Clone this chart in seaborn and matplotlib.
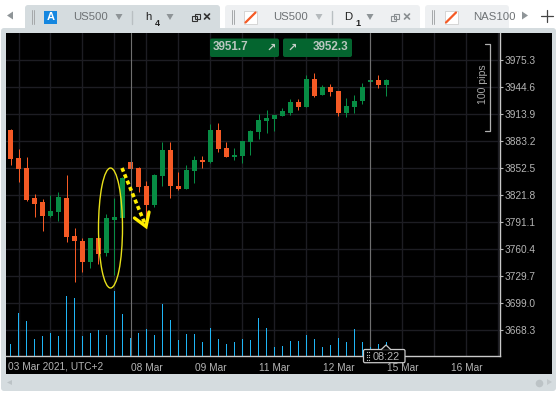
import numpy as np
import pandas as pd
import matplotlib
matplotlib.use("Agg")
import matplotlib.pyplot as plt
from matplotlib.patches import Rectangle, FancyBboxPatch, Ellipse, Polygon
import seaborn as sns

# bougies h4, valeurs
opens = [3896.0, 3864.2, 3852.8, 3818.7, 3814.2, 3798.3, 3802.8, 3818.7, 3775.5, 3769.8, 3745.9, 3773.2,
         3756.2, 3793.7, 3796.0, 3859.7, 3852.8, 3832.4, 3810.8, 3843.7, 3873.3, 3832.4, 3829.0, 3849.4,
         3861.9, 3859.7, 3896.0, 3875.6, 3865.4, 3866.5, 3882.4, 3893.8, 3906.3, 3908.5, 3912.0, 3915.4,
         3927.9, 3922.2, 3954.0, 3935.8, 3945.0, 3940.4, 3915.4, 3922.2, 3929.0, 3950.6, 3952.9, 3947.2]
closes = [3863.1, 3851.7, 3816.5, 3811.9, 3798.3, 3804.0, 3819.9, 3774.4, 3769.8, 3745.9, 3773.2, 3755.0,
          3796.0, 3797.1, 3841.5, 3851.7, 3831.2, 3810.8, 3844.9, 3873.3, 3832.4, 3829.0, 3850.6, 3861.9,
          3859.7, 3896.0, 3874.4, 3865.4, 3867.6, 3883.5, 3894.9, 3907.4, 3909.7, 3913.1, 3917.7, 3927.9,
          3922.2, 3954.0, 3934.7, 3945.0, 3939.3, 3915.4, 3923.3, 3929.0, 3945.0, 3952.9, 3947.2, 3952.9]
highs = [3897.2, 3874.4, 3865.4, 3823.3, 3817.6, 3822.1, 3825.6, 3844.9, 3784.6, 3773.2, 3773.2, 3773.2,
         3800.5, 3818.7, 3842.6, 3868.8, 3854.0, 3838.1, 3846.0, 3882.4, 3882.4, 3848.3, 3856.2, 3866.5,
         3866.5, 3902.9, 3904.0, 3882.4, 3875.6, 3883.5, 3896.0, 3914.2, 3918.8, 3913.1, 3921.1, 3931.3,
         3931.3, 3958.6, 3960.9, 3947.2, 3948.4, 3940.4, 3932.4, 3935.8, 3949.5, 3954.0, 3958.6, 3954.0]
lows = [3856.6, 3837.3, 3815.3, 3797.1, 3781.2, 3797.1, 3792.6, 3768.7, 3723.2, 3734.6, 3739.1, 3743.7,
        3752.8, 3731.2, 3796.0, 3841.5, 3825.6, 3797.1, 3808.5, 3832.4, 3818.7, 3827.8, 3829.0, 3835.8,
        3852.8, 3858.5, 3871.0, 3865.4, 3861.9, 3858.5, 3867.6, 3885.8, 3892.6, 3894.9, 3912.0, 3913.1,
        3918.8, 3922.2, 3933.6, 3935.8, 3934.7, 3912.0, 3910.8, 3915.4, 3925.6, 3940.4, 3943.8, 3934.7]
volumes = [12.6, 43.6, 35.6, 17.6, 20.6, 23.6, 20.6, 60.6, 58.6, 20.6, 23.6, 26.6,
           21.6, 65.6, 42.6, 18.6, 23.6, 27.6, 21.6, 52.6, 36.6, 16.6, 22.6, 22.6,
           14.6, 28.6, 17.6, 12.6, 14.6, 17.6, 16.6, 38.6, 28.6, 9.6, 10.6, 15.0,
           15.0, 21.6, 17.6, 9.6, 11.6, 18.6, 14.0, 27.6, 14.6, 9.6, 12.6, 14.6]

price_ticks = [3975.3, 3944.6, 3913.9, 3883.2, 3852.5, 3821.8, 3791.1, 3760.4, 3729.7, 3699.0, 3668.3]
date_pos = [17, 25, 33, 41, 49, 57]
date_labels = ["08 Mar", "09 Mar", "11 Mar", "12 Mar", "15 Mar", "16 Mar"]

ORANGE = "#f55a25"
GREEN = "#078c44"
BLUE = "#1fb5f5"
GRID = "#1d1d23"
TXT = "#b5b5b5"
CHROME = "#d5dcdf"
CHROME2 = "#eef0f2"
W, H = 560, 395
XLIM = (-0.5625, 61.1875)

df = pd.DataFrame({"i": np.arange(len(opens)), "open": opens, "close": closes,
                   "high": highs, "low": lows, "volume": volumes})
df["up"] = df["close"] >= df["open"]
df["color"] = np.where(df["up"], GREEN, ORANGE)

sns.set_theme(style="dark")
plt.rcParams["font.family"] = ["Liberation Sans", "DejaVu Sans"]

fig = plt.figure(figsize=(W / 100, H / 100), dpi=100, facecolor="white")

# fond : onglets et cadre, en pixels
bg = fig.add_axes([0, 0, 1, 1], zorder=0)
bg.set_xlim(0, W)
bg.set_ylim(H, 0)
bg.axis("off")
bg.add_patch(FancyBboxPatch((25, 5), 195, 30, boxstyle="round,pad=0,rounding_size=3", fc=CHROME, ec="none"))
bg.add_patch(FancyBboxPatch((225, 5), 195, 30, boxstyle="round,pad=0,rounding_size=3", fc=CHROME2, ec="none"))
bg.add_patch(FancyBboxPatch((425, 5), 84, 30, boxstyle="round,pad=0,rounding_size=3", fc=CHROME2, ec="none"))
bg.add_patch(FancyBboxPatch((1, 28), 555, 363, boxstyle="round,pad=0,rounding_size=3", fc=CHROME, ec="none"))
bg.add_patch(Rectangle((6, 33), 546, 341, fc="black", ec="none"))

# graphique principal
ax = fig.add_axes([6 / W, 1 - 356.3 / H, 494 / W, 323.3 / H], zorder=1, facecolor="black")
ax.vlines(df["i"], df["low"], df["high"], colors=df["color"], linewidth=0.72, zorder=3)
ax.bar(df["i"], (df["close"] - df["open"]).abs(), bottom=df[["open", "close"]].min(axis=1),
       width=0.625, color=df["color"], linewidth=0, zorder=4)
for c in [15, 45]:
    ax.axvline(c, color="#6f6f6f", linewidth=0.8, zorder=5)
ax.set_xlim(*XLIM)
ax.set_ylim(3638.7, 4006.3)

# volumes
ax_vol = ax.twinx()
ax_vol.set_zorder(2)
ax_vol.patch.set_visible(False)
sns.barplot(data=df, x="i", y="volume", native_scale=True, width=0.125, color=BLUE,
            saturation=1, errorbar=None, linewidth=0, ax=ax_vol)
ax_vol.set_xlim(*XLIM)
ax_vol.set_ylim(0, 323.3)
ax_vol.set_yticks([])
ax_vol.set_xlabel("")
ax_vol.set_ylabel("")
ax_vol.grid(False)
ax_vol.tick_params(axis="x", length=0, labelbottom=False)
for s in ax_vol.spines.values():
    s.set_visible(False)

# axes (apres twinx, qui remet les ticks a gauche)
ax.yaxis.tick_right()
ax.set_yticks(price_ticks)
ax.set_yticklabels([f"{p:.1f}" for p in price_ticks])
grid_pos = list(range(1, 62, 4))
ax.set_xticks(grid_pos)
ax.set_xticklabels([date_labels[date_pos.index(g)] if g in date_pos else "" for g in grid_pos])
ax.grid(True, color=GRID, linewidth=1)
ax.set_axisbelow(True)
ax.tick_params(axis="both", colors=TXT, labelsize=7.3, length=2, width=0.8, pad=1.5, labelcolor=TXT)
ax.tick_params(axis="x", pad=2.5)
for side in ["top", "left"]:
    ax.spines[side].set_visible(False)
for side in ["right", "bottom"]:
    ax.spines[side].set_color("#c9c9c9")
    ax.spines[side].set_linewidth(1)

# devant : annotations et barre d'onglets
fg = fig.add_axes([0, 0, 1, 1], zorder=3)
fg.set_xlim(0, W)
fg.set_ylim(H, 0)
fg.axis("off")
fg.patch.set_visible(False)

fg.text(8, 366.5, "03 Mar 2021, UTC+2", color=TXT, fontsize=7.3, va="center", ha="left")

# ellipse et fleche jaunes
fg.add_patch(Ellipse((110.5, 228), 24, 120, fc="none", ec="#e8e01a", lw=1))
fg.plot([122, 145], [168, 224], color="#ffee00", lw=2.6, ls=(0, (1.1, 0.8)))
fg.plot([134.5, 146, 149], [218, 226.5, 212], color="#ffee00", lw=2.4, solid_joinstyle="miter")

# boutons prix
for x0, val, tx, ax_ in [(210, "3951.7", 230, 271), (283, "3952.3", 330, 292.5)]:
    fg.add_patch(FancyBboxPatch((x0, 38.5), 69, 18.5, boxstyle="round,pad=0,rounding_size=2", fc="#04652f", ec="none"))
    fg.text(tx, 47.5, val, color="#b9c7bf", fontsize=8.4, fontweight="bold", ha="center", va="center")
    fg.text(ax_, 47.5, "\u2197", color="#c5d0c9", fontsize=8, fontweight="bold", ha="center", va="center",
            family=["DejaVu Sans"])

# echelle 100 pips
fg.plot([485, 489.5, 489.5, 485], [43.5, 43.5, 131, 131], color="#b0b0b0", lw=0.9)
fg.text(483, 84.5, "100 pips", color="#a8a8a8", fontsize=7.6, rotation=90, ha="center", va="center")

# curseur temps
fg.add_patch(FancyBboxPatch((363.5, 349.5), 41.5, 13.2, boxstyle="round,pad=0,rounding_size=1.5",
                            fc="black", ec="#c9c9c9", lw=0.9, zorder=6))
fg.add_patch(Polygon([[381, 349.8], [386, 345], [391, 349.8]], closed=False, fc="black", ec="#c9c9c9", lw=0.9, zorder=7))
fg.text(386.5, 356.5, "08:22", color=TXT, fontsize=7.8, ha="center", va="center", zorder=8)
fg.scatter([367, 369, 367, 369, 367, 369, 367, 369], [352, 352, 354.5, 354.5, 357, 357, 359.5, 359.5],
           s=0.8, color="#c0c0c0", linewidths=0, zorder=8)

# onglets
for gx in [33, 233, 433]:
    fg.plot([gx - 1, gx - 1], [10, 24], color="#a5a8aa", lw=0.7)
    fg.plot([gx + 1, gx + 1], [10, 24], color="#a5a8aa", lw=0.7)
fg.add_patch(Rectangle((44, 11), 13, 13, fc="#1587e0", ec="none"))
fg.text(50.5, 17.5, "A", color="white", fontsize=8, fontweight="bold", ha="center", va="center")
for ix in [244, 444.5]:
    fg.add_patch(Rectangle((ix, 11), 13, 13, fc="white", ec="#d0d0d0", lw=0.6))
    fg.plot([ix + 1.5, ix + 11.5], [22.5, 12.5], color=ORANGE, lw=1.6)
fg.text(90, 17, "US500", color="#6e7275", fontsize=8.2, ha="center", va="center")
fg.text(290, 17, "US500", color="#6e7275", fontsize=8.2, ha="center", va="center")
nas = fg.text(473, 17, "NAS100", color="#6e7275", fontsize=8.2, ha="left", va="center")
nas.set_clip_path(Rectangle((473, 5), 36, 24, transform=fg.transData))
fg.text(148, 17, "h", color="#222222", fontsize=8.2, ha="center", va="center")
fg.text(157.5, 23.5, "4", color="#222222", fontsize=6.5, ha="center", va="center", fontweight="bold")
fg.text(348.5, 17, "D", color="#222222", fontsize=8.2, ha="center", va="center")
fg.text(357.5, 23.5, "1", color="#222222", fontsize=6.5, ha="center", va="center", fontweight="bold")
for tx, tc in [(119, "#8e9497"), (170, "#8e9497"), (319, "#b5babd"), (370, "#8e9497")]:
    fg.add_patch(Polygon([[tx - 3.5, 14], [tx + 3.5, 14], [tx, 20]], fc=tc, ec="none"))
for sx in [132, 332]:
    fg.plot([sx, sx], [11, 24], color="#b9bfc2", lw=1)
for px, pc in [(196, "#333333"), (395, "#8a8f92")]:
    fg.add_patch(Rectangle((px - 1.5, 13.5), 5, 5, fc="none", ec=pc, lw=0.8))
    fg.add_patch(Rectangle((px - 4, 16), 5, 5, fc="none", ec=pc, lw=0.8))
for xx, xc in [(207, "#333333"), (407, "#8a8f92")]:
    fg.plot([xx - 2.5, xx + 2.5], [14, 19], color=xc, lw=1.2)
    fg.plot([xx - 2.5, xx + 2.5], [19, 14], color=xc, lw=1.2)
fg.add_patch(Polygon([[13, 11.5], [13, 19.5], [7, 15.5]], fc="#8f9598", ec="none"))
fg.add_patch(Polygon([[522, 11.5], [522, 19.5], [528, 15.5]], fc="#8f9598", ec="none"))
fg.plot([547, 547], [10, 22], color="#444444", lw=0.9)
fg.plot([541, 553], [16, 16], color="#444444", lw=0.9)

# petites icones du bas
fg.add_patch(Polygon([[7, 382.5], [12, 380], [12, 385]], fc="#bcc3c6", ec="none"))
fg.scatter([539], [382.5], s=30, color="#bcc3c6", linewidths=0)
fg.add_patch(Polygon([[547, 379], [547, 385], [552, 382]], fc="#c2c8cb", ec="none"))

fig.savefig("out.png", dpi=100)
